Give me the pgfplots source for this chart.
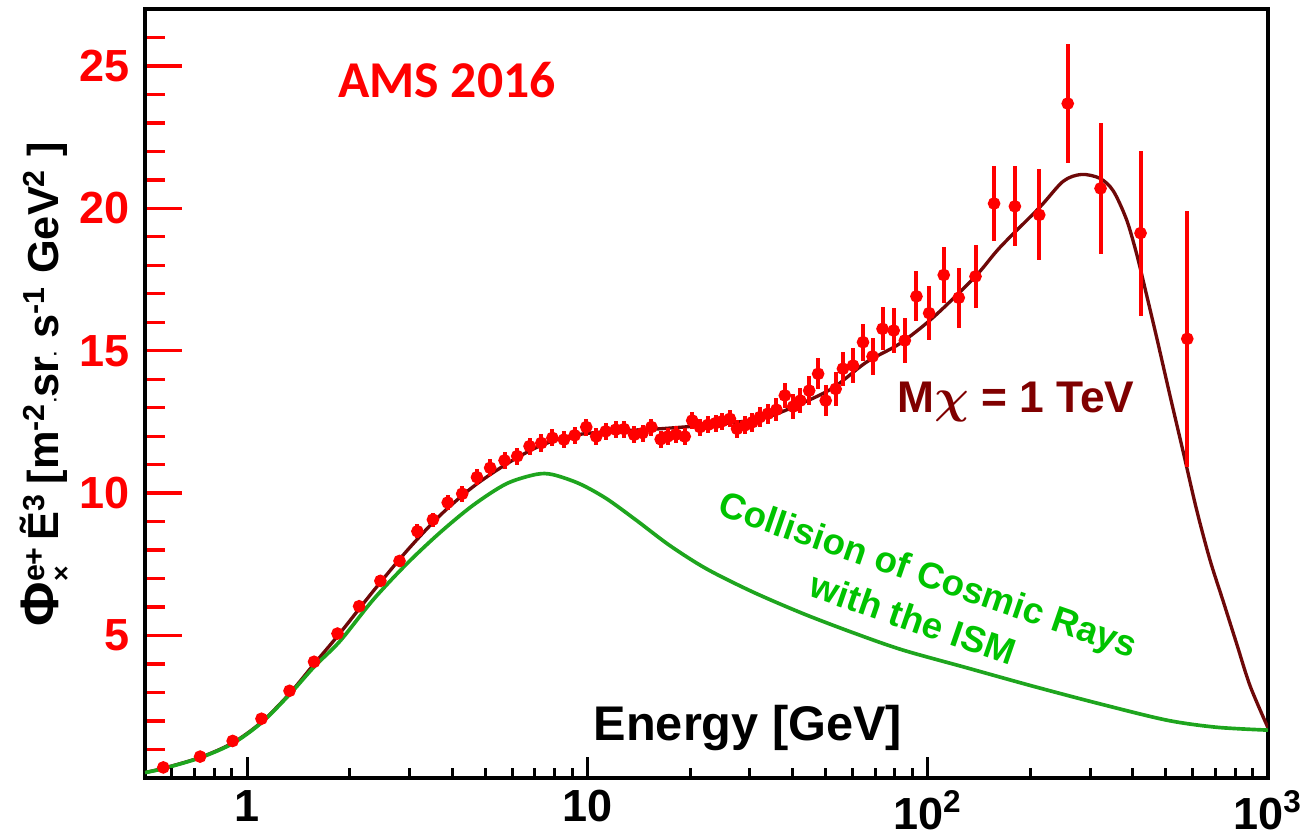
\documentclass[border=0pt]{standalone}
\usepackage{amsmath}
\usepackage{fontspec}
\setmainfont{Liberation Sans}
\newfontfamily\carlito{Carlito}
\usepackage{pgfplots}
\usepackage{pgfplotstable}
\pgfplotsset{compat=1.18}

\definecolor{ptred}{RGB}{255,0,0}
\definecolor{dmline}{RGB}{110,8,8}
\definecolor{dmtext}{RGB}{128,0,0}
\definecolor{bgline}{RGB}{30,165,30}
\definecolor{bgtext}{RGB}{0,195,0}

% AMS positron flux x E^3
\pgfplotstableread{
E F dF
0.566 0.37 0.05
0.726 0.75 0.05
0.905 1.30 0.06
1.10 2.08 0.08
1.33 3.06 0.10
1.57 4.08 0.12
1.84 5.07 0.15
2.13 6.03 0.18
2.46 6.92 0.20
2.80 7.62 0.22
3.16 8.66 0.25
3.51 9.07 0.25
3.88 9.67 0.27
4.28 9.98 0.28
4.73 10.56 0.28
5.17 10.89 0.30
5.70 11.15 0.30
6.21 11.30 0.30
6.75 11.65 0.30
7.31 11.76 0.30
7.88 11.94 0.30
8.52 11.88 0.30
9.16 12.03 0.30
9.91 12.32 0.30
10.6 11.99 0.30
11.3 12.17 0.30
12.1 12.23 0.30
12.8 12.25 0.30
13.7 12.05 0.30
14.5 12.11 0.30
15.4 12.32 0.30
16.4 11.89 0.30
17.2 11.99 0.30
18.2 12.06 0.30
19.3 11.99 0.30
20.3 12.55 0.30
21.4 12.32 0.30
22.6 12.40 0.30
23.8 12.46 0.30
24.9 12.53 0.30
26.2 12.61 0.30
27.5 12.26 0.32
29.0 12.38 0.32
30.5 12.49 0.33
32.1 12.67 0.35
33.9 12.79 0.35
35.9 12.93 0.40
38.0 13.43 0.45
40.2 13.04 0.45
42.2 13.25 0.45
44.8 13.60 0.50
47.6 14.19 0.55
50.1 13.25 0.55
53.6 13.66 0.60
56.3 14.37 0.60
60.3 14.48 0.60
64.5 15.30 0.65
68.8 14.80 0.65
73.6 15.77 0.75
79.4 15.71 0.80
85.6 15.36 0.80
92.6 16.91 0.88
100.9 16.32 0.95
111.4 17.66 1.00
123.3 16.86 1.05
138.1 17.61 1.10
156.6 20.17 1.33
180.3 20.07 1.40
212.6 19.77 1.60
257.8 23.68 2.10
322 20.70 2.30
422 19.13 2.90
579 15.42 4.50
}\posdata

% model: secondaries + 1 TeV dark matter
\pgfplotstableread{
E F
0.5 0.19
0.566 0.34
0.726 0.72
0.905 1.23
1.1 1.96
1.33 2.96
1.57 4.0
1.87 5.08
2.34 6.55
2.93 7.95
3.67 9.2
4.6 10.22
5.77 11.02
7.06 11.6
8.5 11.95
10 12.1
13 12.2
16.3 12.26
22 12.38
27 12.48
33.5 12.66
42 13.12
52.7 13.7
66 14.6
82.7 15.25
103.7 16.17
138 17.61
163 18.63
213 20.03
250 20.95
283 21.19
321 21.05
351 20.61
384 19.6
411 18.4
435 17.19
471 15.45
515 13.43
564 11.42
617 9.41
675 7.66
739 6.19
809 4.71
886 3.23
1000 1.76
}\totline

% secondaries only
\pgfplotstableread{
E F
0.5 0.19
0.566 0.33
0.726 0.71
0.905 1.21
1.1 1.94
1.33 2.93
1.57 3.9
1.87 4.8
2.34 6.25
2.93 7.5
3.67 8.6
4.6 9.57
5.77 10.33
7.06 10.66
7.91 10.65
9.47 10.33
11.35 9.81
13.9 9.05
17.4 8.17
22.3 7.35
30.6 6.53
43 5.77
60.3 5.1
84 4.5
130 3.87
204 3.22
321 2.6
504 2.03
707 1.78
1000 1.68
}\bgline

\begin{document}
\begin{tikzpicture}
\begin{axis}[
name=main,
width=336.9pt, height=230.7pt, scale only axis,
xmode=log, xmin=0.5, xmax=1000,
ymin=0, ymax=27,
xtick=\empty, xmajorticks=false, xminorticks=false,
ytick={5,10,15,20,25},
minor ytick={1,2,...,27},
ytick pos=left,
tick align=inside,
major tick length=11pt, minor tick length=6pt,
tick style={ptred, line width=1pt},
axis line style={line width=1.1pt},
/pgf/number format/assume math mode=true,
yticklabel style={text=ptred, font=\bfseries\fontsize{13.5}{14}\selectfont, xshift=-1pt},
ylabel={\bfseries\fontsize{13}{14}\selectfont \scalebox{1.25}{Φ}\rlap{\textsuperscript{e+}}\raisebox{-0.5ex}{\footnotesize ×}\hspace{0.6em}Ẽ\textsuperscript{3}\hspace{0.2em}[m\textsuperscript{-2}\raisebox{-0.1ex}{\tiny·}sr\raisebox{-0.1ex}{\tiny·} s\textsuperscript{-1} GeV\textsuperscript{2} ]},
y label style={at={(axis description cs:-0.089,0.512)}, anchor=center, rotate=0},
]
\addplot[dmline, line width=1pt, smooth] table[x=E, y=F]{\totline};
\addplot[bgline, line width=1.1pt, smooth] table[x=E, y=F]{\bgline};
\addplot[ptred, only marks, mark=*, mark size=1.7pt,
  error bars/.cd, y dir=both, y explicit, error mark=none,
  error bar style={ptred, line width=1.2pt}]
  table[x=E, y=F, y error=dF]{\posdata};

\node[anchor=base, text=ptred, font=\carlito\bfseries\fontsize{15.5}{16}\selectfont] at (axis cs:3.86,23.89) {AMS 2016};
\node[anchor=base, text=dmtext, font=\bfseries\fontsize{13.3}{14}\selectfont] at (axis cs:181.5,12.83) {M$\boldsymbol{\chi}$ = 1 TeV};
\node[anchor=base, text=black, font=\bfseries\fontsize{14.6}{15}\selectfont] at (axis cs:29.6,1.33) {Energy [GeV]};
\node[rotate=-19, align=center, text=bgtext, font=\bfseries\fontsize{11}{14}\selectfont] at (axis cs:95.4,6.38) {Collision of Cosmic Rays\\with the ISM};
\end{axis}

\begin{axis}[
width=336.9pt, height=230.7pt, scale only axis,
xmode=log, xmin=0.5, xmax=1000,
ymin=0, ymax=27,
ytick=\empty, ymajorticks=false, yminorticks=false,
xtick={1,10,100,1000},
xticklabels={1,10,10\textsuperscript{2},10\textsuperscript{3}},
minor xtick={0.6,0.7,0.8,0.9,2,3,...,9,20,30,...,90,200,300,...,900},
xtick pos=bottom,
tick align=inside,
major tick length=6.3pt, minor tick length=3pt,
tick style={black, line width=0.9pt},
axis line style={draw=none},
xticklabel style={text=black, inner sep=0pt, yshift=-3.5pt, font=\bfseries\fontsize{13.5}{14}\selectfont},
]
\end{axis}

\pgfresetboundingbox
\path ([shift={(-43.5pt,-16.2pt)}]main.south west) rectangle ([shift={(10.8pt,2.7pt)}]main.north east);
\end{tikzpicture}
\end{document}
